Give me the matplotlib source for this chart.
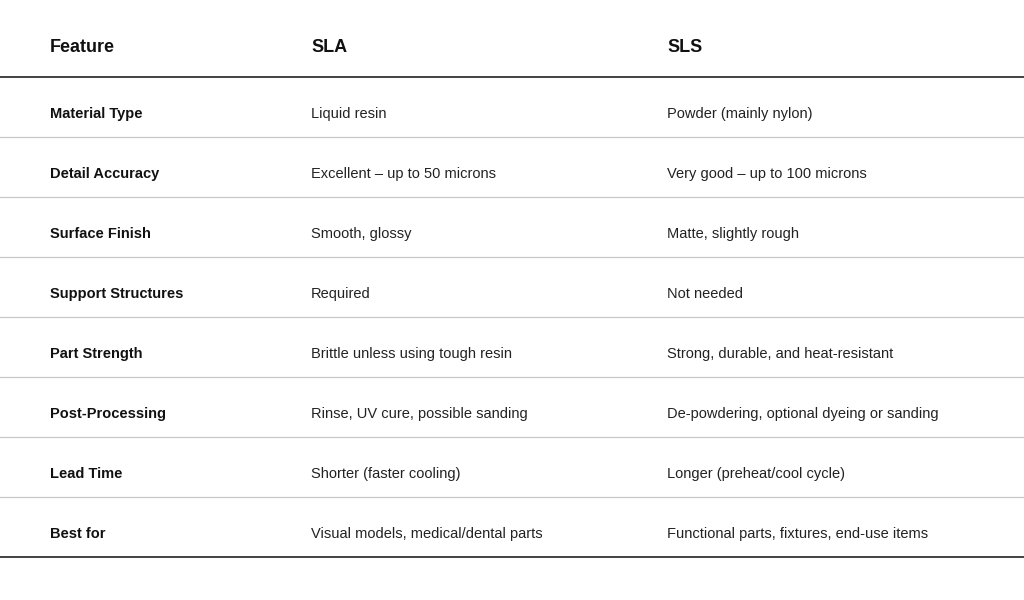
import matplotlib
matplotlib.use("Agg")
import matplotlib.pyplot as plt

headers = ["Feature", "SLA", "SLS"]
features = ["Material Type", "Detail Accuracy", "Surface Finish", "Support Structures",
            "Part Strength", "Post-Processing", "Lead Time", "Best for"]
sla = ["Liquid resin", "Excellent – up to 50 microns", "Smooth, glossy", "Required",
       "Brittle unless using tough resin", "Rinse, UV cure, possible sanding",
       "Shorter (faster cooling)", "Visual models, medical/dental parts"]
sls = ["Powder (mainly nylon)", "Very good – up to 100 microns", "Matte, slightly rough",
       "Not needed", "Strong, durable, and heat-resistant",
       "De-powdering, optional dyeing or sanding", "Longer (preheat/cool cycle)",
       "Functional parts, fixtures, end-use items"]

W, H = 1024, 600
fig = plt.figure(figsize=(W/100, H/100), dpi=100)
ax = fig.add_axes([0, 0, 1, 1])
ax.set_xlim(0, W)
ax.set_ylim(H, 0)
ax.axis("off")
plt.rcParams['font.family'] = ['Liberation Sans', 'DejaVu Sans']

colx = [50, 311, 667]
for x, h in zip(colx, headers):
    ax.text(x, 48, h, fontsize=13, fontweight="bold", va="center", ha="left", color="#111111")
ax.plot([0, W], [77, 77], color="#333333", lw=1.3)

top, step = 77, 60.0
for i, (f, a, b) in enumerate(zip(features, sla, sls)):
    y0 = top + i * step
    yc = y0 + 37
    ax.text(colx[0], yc, f, fontsize=10.5, fontweight="bold", va="center", color="#111111")
    ax.text(colx[1], yc, a, fontsize=10.5, va="center", color="#222222")
    ax.text(colx[2], yc, b, fontsize=10.5, va="center", color="#222222")
    y1 = y0 + step
    if i < len(features) - 1:
        ax.plot([0, W], [y1, y1], color="#c8c8c8", lw=0.9)
    else:
        ax.plot([0, W], [557, 557], color="#333333", lw=1.3)

fig.savefig("out.png", dpi=100, facecolor="white")
